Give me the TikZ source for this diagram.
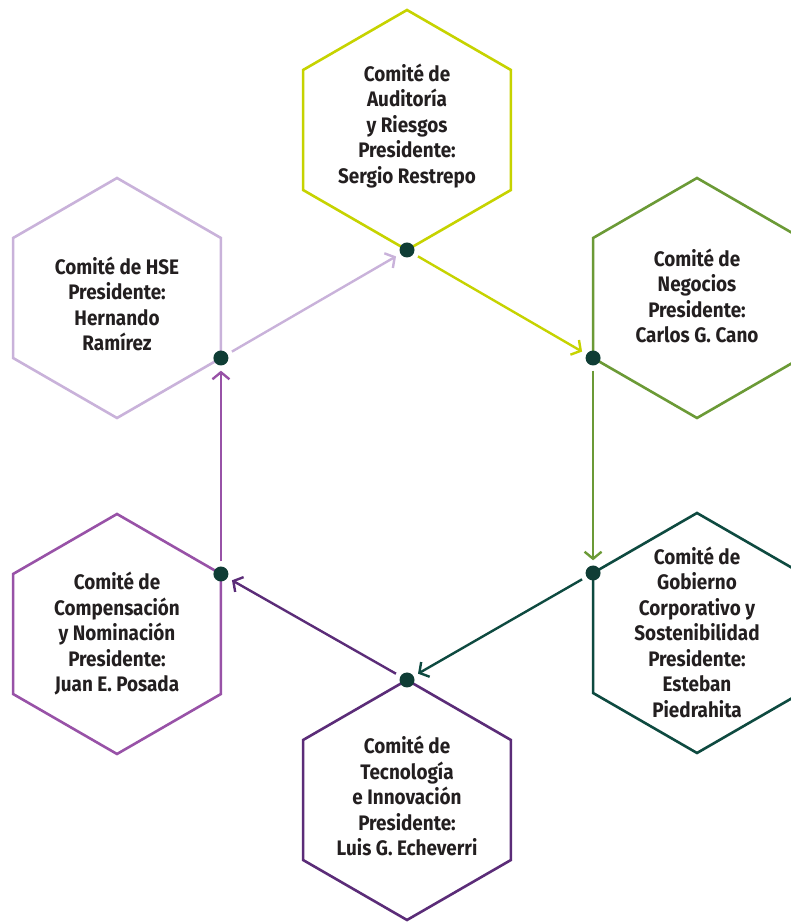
\documentclass[tikz,border=0pt]{standalone}
\usepackage{fontspec}
\setmainfont{Fira Sans}[FakeStretch=0.9]
\usepackage{xcolor}
\usetikzlibrary{arrows.meta,calc}
\definecolor{audcol}{HTML}{C6D300}
\definecolor{hsecol}{HTML}{C9B2DA}
\definecolor{negcol}{HTML}{6B9A36}
\definecolor{gobcol}{HTML}{0E4A40}
\definecolor{teccol}{HTML}{5B2C78}
\definecolor{comcol}{HTML}{9852A7}
\definecolor{dotcol}{HTML}{0F3D35}
\definecolor{txtcol}{HTML}{231F20}
\tikzset{
  hexa/.style={line width=2.6pt, line join=miter},
  txt/.style={align=center, text=txtcol, font=\bfseries\fontsize{21}{25.5}\selectfont, inner sep=0pt},
  dot/.style={circle, fill=dotcol, inner sep=0pt, minimum size=15pt},
  line/.style={-{Straight Barb[length=7pt,width=17pt,line width=2.4pt]}, line width=2.4pt, shorten <=5pt, shorten >=5pt}
}
\newcommand\hexagon[2]{\draw[hexa,#2] (#1) +(90:120) -- +(150:120) -- +(210:120) -- +(270:120) -- +(330:120) -- +(30:120) -- cycle;}

\begin{document}
\begin{tikzpicture}[x=1pt, y=1pt]
        \useasboundingbox (0,0) rectangle (791,922);
        \coordinate (aud) at (407,792);
        \coordinate (hse) at (117,624);
        \coordinate (neg) at (697,624);
        \coordinate (gob) at (697,289);
        \coordinate (tec) at (407,122);
        \coordinate (com) at (117,288);
        \hexagon{aud}{audcol}
        \hexagon{hse}{hsecol}
        \hexagon{neg}{negcol}
        \hexagon{gob}{gobcol}
        \hexagon{tec}{teccol}
        \hexagon{com}{comcol}
        \node[txt] (audtxt) at ($(aud)+(0,4)$) {Comité de\\Auditoría\\y Riesgos\\Presidente:\\Sergio Restrepo};
        \node[txt] (hsetxt) at ($(hse)+(0,-6)$) {Comité de HSE\\Presidente:\\Hernando\\Ramírez};
        \node[txt] (negtxt) at ($(neg)+(0,2)$) {Comité de\\Negocios\\Presidente:\\Carlos G. Cano};
        \node[txt] (gobtxt) at ($(gob)+(0,1)$) {Comité de\\Gobierno\\Corporativo y\\Sostenibilidad\\Presidente:\\Esteban\\Piedrahita};
        \node[txt] (tectxt) at ($(tec)+(0,4)$) {Comité de\\Tecnología\\e Innovación\\Presidente:\\Luis G. Echeverri};
        \node[txt] (comtxt) at (com) {Comité de\\Compensación\\y Nominación\\Presidente:\\Juan E. Posada};
        % puntos de enlace
        \node[dot] (audpt) at ($(aud)+(270:120)$) {};
        \node[dot] (hsept) at ($(hse)+(330:120)$) {};
        \node[dot] (negpt) at ($(neg)+(210:120)$) {};
        \node[dot] (gobpt) at ($(gob)+(150:120)$) {};
        \node[dot] (tecpt) at ($(tec)+(90:120)$) {};
        \node[dot] (compt) at ($(com)+(30:120)$) {};
        \draw[line, hsecol] (hsept) -- (audpt);
        \draw[line, audcol] (audpt) -- (negpt);
        \draw[line, negcol] (negpt) -- (gobpt);
        \draw[line, gobcol] (gobpt) -- (tecpt);
        \draw[line, teccol] (tecpt) -- (compt);
        \draw[line, comcol] (compt) -- (hsept);
      \end{tikzpicture}
\end{document}
